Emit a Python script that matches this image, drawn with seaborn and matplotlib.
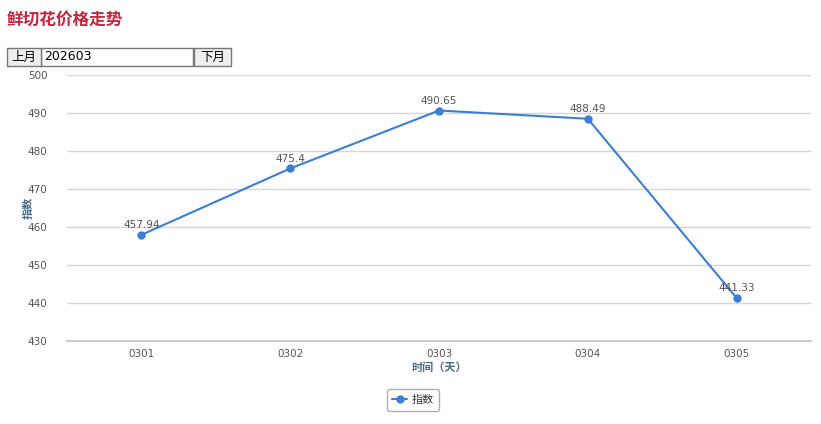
import matplotlib
matplotlib.use('Agg')
import matplotlib.pyplot as plt
import matplotlib.patches as patches
import numpy as np
import pandas as pd
import seaborn as sns

# data
days = ['0301', '0302', '0303', '0304', '0305']
index_values = [457.94, 475.4, 490.65, 488.49, 441.33]
y_ticks = [430, 440, 450, 460, 470, 480, 490, 500]

sns.set_style('white')
plt.rcParams['font.family'] = ['Noto Sans CJK SC', 'DejaVu Sans']

line_color = '#3a7fd5'
grid_color = '#d6d6d6'
label_color = '#4a6a8a'

df = pd.DataFrame({'day': days, 'index': index_values})

fig = plt.figure(figsize=(8.21, 4.24), dpi=100)
ax = fig.add_axes([67 / 821, 1 - 341 / 424, 744 / 821, 266 / 424])

sns.lineplot(x='day', y='index', data=df, ax=ax, color=line_color, linewidth=1.5,
             marker='o', markersize=6, markeredgewidth=0, label='指数', legend=False)

for i, v in enumerate(index_values):
  ax.text(i, v + 1.3, f'{v:g}', ha='center', va='bottom', fontsize=7.5,
          color='#555555', family=['DejaVu Sans'])

ax.set_xlim(-0.5, len(days) - 0.5)
ax.set_ylim(430, 500)
ax.set_yticks(y_ticks)
ax.set_yticklabels([str(t) for t in y_ticks], fontsize=7.5, color='#555555', family=['DejaVu Sans'])
ax.set_xticks(range(len(days)))
ax.set_xticklabels(days, fontsize=7.5, color='#555555', family=['DejaVu Sans'])
ax.set_xticks(np.arange(-0.5, len(days), 1), minor=True)
ax.tick_params(axis='x', which='major', length=0, pad=6)
ax.tick_params(axis='x', which='minor', length=4, color=grid_color, direction='out')
ax.tick_params(axis='y', length=0, pad=14)

ax.grid(axis='y', color=grid_color, linewidth=1)
ax.set_axisbelow(True)
for side in ['top', 'right', 'left']:
  ax.spines[side].set_visible(False)
ax.spines['bottom'].set_color('#cccccc')
ax.spines['bottom'].set_linewidth(1.5)

ax.set_xlabel('时间（天）', fontsize=8, color=label_color, fontweight='bold', labelpad=1)
ax.set_ylabel('指数', fontsize=8, color=label_color, fontweight='bold')
ax.yaxis.set_label_coords(-0.044, 0.5)

leg = ax.legend(loc='center', bbox_to_anchor=(0.465, -0.222), frameon=True, fontsize=8,
                handlelength=1.3, handletextpad=0.4, borderpad=0.5, fancybox=True)
leg.get_frame().set_edgecolor('#999999')
leg.get_frame().set_linewidth(1)
for t in leg.get_texts():
  t.set_color('#333333')

# title and month switcher
fig.text(7 / 821, 1 - 20 / 424, '鲜切花价格走势', fontsize=12, fontweight='bold',
         color='#c8243c', va='center', ha='left')

btn_y0 = 1 - 66 / 424
btn_h = 18 / 424
fig.patches.append(patches.Rectangle((41 / 821, btn_y0), 152 / 821, btn_h, transform=fig.transFigure,
                                     facecolor='white', edgecolor='#767676', linewidth=1))
fig.text(44 / 821, btn_y0 + btn_h / 2, '202603', fontsize=9, color='black', va='center', ha='left',
         family=['DejaVu Sans'])
for x0, w, txt in [(7, 34, '上月'), (194, 37, '下月')]:
  fig.patches.append(patches.Rectangle((x0 / 821, btn_y0), w / 821, btn_h, transform=fig.transFigure,
                                       facecolor='#efefef', edgecolor='#767676', linewidth=1))
  fig.text((x0 + w / 2) / 821, btn_y0 + btn_h / 2, txt, fontsize=9, color='black',
           va='center', ha='center')

fig.savefig('out.png', dpi=100)
